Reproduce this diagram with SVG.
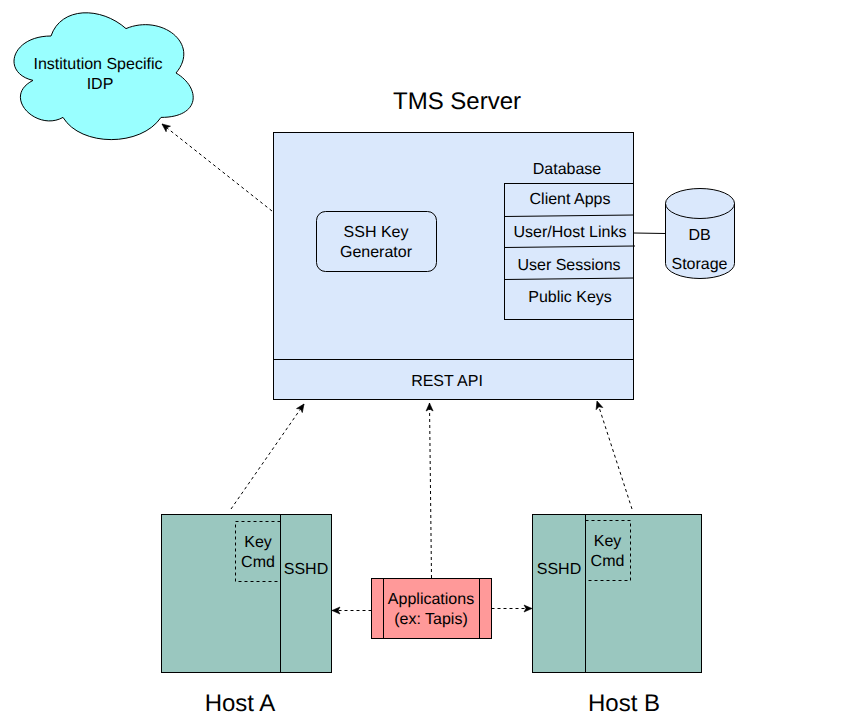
<svg xmlns="http://www.w3.org/2000/svg" width="851" height="724" viewBox="0 0 851 724">
<style>
text{font-family:"Liberation Sans",Arial,sans-serif;font-size:16px;fill:#000;text-anchor:middle;text-rendering:geometricPrecision}
.t{font-size:24px}
.s{stroke:#000;stroke-width:1;fill:none}
.blue{fill:#dae8fc;stroke:#000}
.teal{fill:#9ac7bf;stroke:#000}
.red{fill:#ff9999;stroke:#000}
.d{stroke:#000;fill:none;stroke-dasharray:3 3}
.a{stroke:#000;fill:none;stroke-dasharray:3 3;marker-end:url(#h)}
</style>
<defs>
<marker id="h" markerUnits="userSpaceOnUse" markerWidth="10" markerHeight="8" refX="8" refY="3.5" orient="auto" viewBox="0 0 10 8" overflow="visible">
<path d="M0 0L8 3.5L0 7L2 3.5Z" fill="#000" stroke="#000" stroke-width="0.6"/>
</marker>
</defs>
<rect width="851" height="724" fill="#fff"/>
<g id="idp">
<path d="M51 36C11 36 1 73 33 80.4C1 96.7 37 132.2 63 117.4C81 147 141 147 161 117.4C201 117.4 201 87.8 176 73C201 43.4 161 13.8 126 28.6C101 6.4 61 6.4 51 36Z" fill="#99ffff" stroke="#000"/>
<text x="98" y="69">Institution Specific</text>
<text x="100" y="89">IDP</text>
</g>
<g id="tms-title"><text class="t" x="457" y="109">TMS Server</text></g>
<g id="tms-server">
<rect class="blue" x="273.5" y="132.5" width="360" height="267"/>
<path class="s" d="M273.5 359.5H633.5"/>
<text x="447" y="386">REST API</text>
</g>
<g id="key-generator">
<rect class="blue" x="316.5" y="211.5" width="120" height="60" rx="9" ry="9"/>
<text x="376" y="237">SSH Key</text>
<text x="376" y="257">Generator</text>
</g>
<g id="database">
<text x="567" y="174">Database</text>
<rect class="blue" x="504.5" y="183.5" width="129" height="136"/>
<path class="s" d="M504.5 216.5L633.5 215"/>
<path class="s" d="M504.5 247.5L635 246"/>
<path class="s" d="M504.5 279.5L633.5 278"/>
<text x="570" y="204">Client Apps</text>
<text x="570" y="237">User/Host Links</text>
<text x="569" y="270">User Sessions</text>
<text x="570" y="302">Public Keys</text>
</g>
<g id="db-storage">
<path class="blue" d="M665.5 203.5A34.5 15 0 0 1 734.5 203.5V263.5A34.5 15 0 0 1 665.5 263.5Z"/>
<path class="s" d="M665.5 203.5A34.5 15 0 0 0 734.5 203.5"/>
<text x="699.5" y="240">DB</text>
<text x="699.5" y="269">Storage</text>
</g>
<g id="host-a">
<rect class="teal" x="161.5" y="514.5" width="170" height="158"/>
<path class="s" d="M280.5 514.5V672.5"/>
<rect class="d" x="235.5" y="521.5" width="45" height="60"/>
<text x="258" y="547">Key</text>
<text x="258" y="567">Cmd</text>
<text x="306" y="574">SSHD</text>
</g>
<g id="host-b">
<rect class="teal" x="532.5" y="514.5" width="169" height="158"/>
<path class="s" d="M585.5 514.5V672.5"/>
<rect class="d" x="585.5" y="520.5" width="45" height="60"/>
<text x="607.5" y="546">Key</text>
<text x="607.5" y="566">Cmd</text>
<text x="559" y="574">SSHD</text>
</g>
<g id="applications">
<rect class="red" x="371.5" y="578.5" width="120" height="60"/>
<path class="s" d="M383.5 578.5V638.5M479.5 578.5V638.5"/>
<text x="431" y="604">Applications</text>
<text x="431" y="624">(ex: Tapis)</text>
</g>
<g id="host-a-label"><text class="t" x="240" y="711">Host A</text></g>
<g id="host-b-label"><text class="t" x="624" y="711">Host B</text></g>
<g id="connectors">
<path class="s" d="M634 233L665.5 233.5"/>
<path class="a" d="M272 211L162 124"/>
<path class="a" d="M231 509L304 404"/>
<path class="a" d="M431.5 578L429.5 403"/>
<path class="a" d="M632 509L597 401"/>
<path class="a" d="M371.5 610.5H332"/>
<path class="a" d="M491.5 608.5H532"/>
</g>
</svg>
